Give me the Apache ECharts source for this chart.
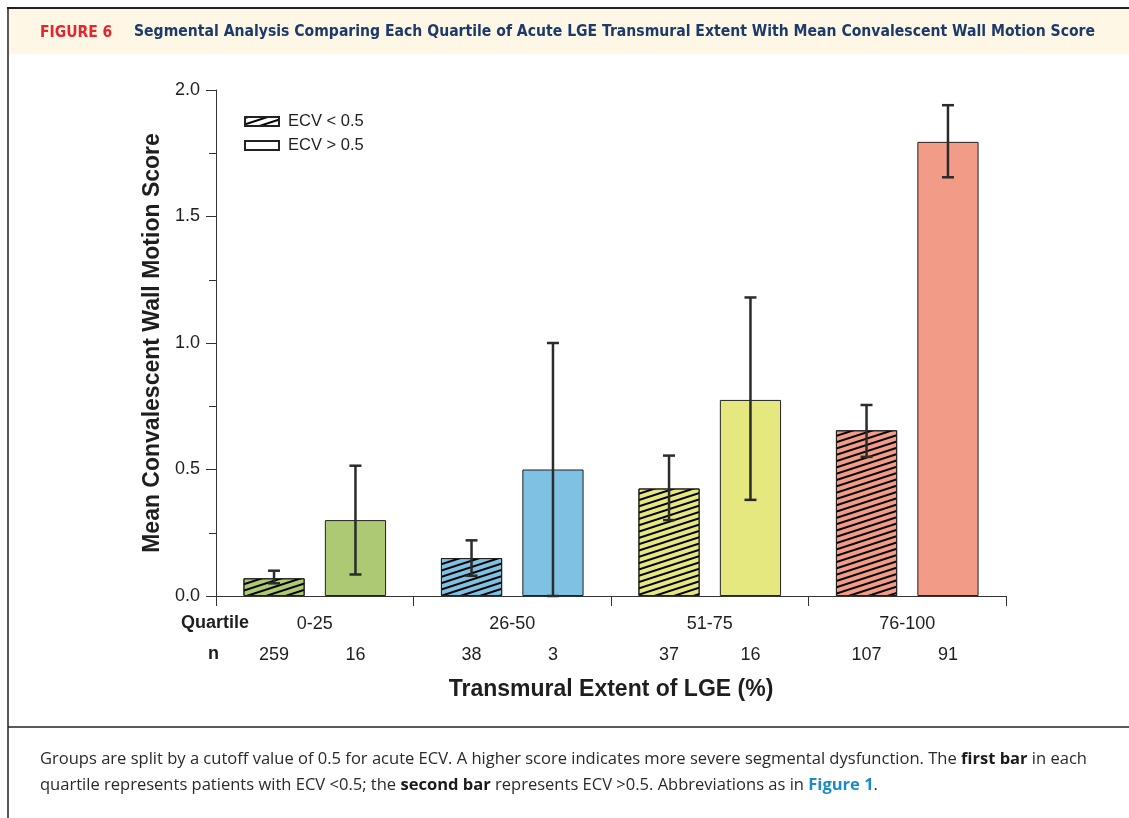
<!DOCTYPE html>
<html><head><meta charset="utf-8">
<script src="https://cdn.jsdelivr.net/npm/echarts@6/dist/echarts.min.js"></script>
<style>html,body{margin:0;padding:0;background:#fff}#c{width:1129px;height:818px}</style>
</head><body><div id="c"></div>
<script>
// ---- data ----
const categories = ['0-25', '26-50', '51-75', '76-100'];
const lowEcvMean = [0.07, 0.15, 0.425, 0.655];
const lowEcvErrLow = [0.05, 0.08, 0.30, 0.55];
const lowEcvErrHigh = [0.10, 0.22, 0.555, 0.755];
const highEcvMean = [0.30, 0.50, 0.775, 1.795];
const highEcvErrLow = [0.085, 0.0, 0.38, 1.655];
const highEcvErrHigh = [0.515, 1.0, 1.18, 1.94];
const lowEcvN = [259, 38, 37, 107];
const highEcvN = [16, 3, 16, 91];
const yTicks = [0, 0.5, 1.0, 1.5, 2.0];
const quartileColors = ['#AEC974', '#7EC1E2', '#E5E87E', '#F29B86'];

const F = 'Liberation Sans, Arial, sans-serif';
const TXT = '#1e1e1e';
const BAR_W = 0.31, BAR_GAP = 0.33;

const chart = echarts.init(document.getElementById('c'));

function errRender(side) {
  return function (params, api) {
    const c = api.value(0);
    const band = api.size([1, 0])[0];
    const bw = band * BAR_W, gap = bw * BAR_GAP;
    const x = api.coord([c, 0])[0] + side * (bw + gap) / 2;
    const yl = api.coord([c, api.value(1)])[1];
    const yh = api.coord([c, api.value(2)])[1];
    const cap = 6;
    const st = { stroke: '#2b2b2b', lineWidth: 2.5 };
    return { type: 'group', children: [
      { type: 'line', shape: { x1: x, y1: yl, x2: x, y2: yh }, style: st },
      { type: 'line', shape: { x1: x - cap, y1: yh, x2: x + cap, y2: yh }, style: st },
      { type: 'line', shape: { x1: x - cap, y1: yl, x2: x + cap, y2: yl }, style: st }
    ]};
  };
}

const hatch = { symbol: 'rect', symbolSize: 1, dashArrayX: [1, 0], dashArrayY: [1.2, 3.3], rotation: -Math.PI / 10, color: '#000' };

const option = {
  animation: false,
  backgroundColor: '#fff',
  grid: { left: 216, right: 123, top: 90, bottom: 222, containLabel: false },
  legend: {
    orient: 'vertical', left: 244, top: 113, itemWidth: 34, itemHeight: 9, itemGap: 7, padding: 0,
    icon: 'rect', selectedMode: false,
    textStyle: { fontFamily: F, fontSize: 16.5, color: TXT, padding: [0, 0, 0, 4] },
    data: ['ECV < 0.5', 'ECV > 0.5']
  },
  xAxis: {
    type: 'category', data: categories,
    axisLine: { lineStyle: { color: '#333', width: 1 } },
    axisTick: { show: true, length: 10, lineStyle: { color: '#333' } },
    axisLabel: { fontFamily: F, fontSize: 18, color: TXT, margin: 19 },
    name: 'Transmural Extent of LGE (%)', nameLocation: 'middle', nameGap: 82,
    nameTextStyle: { fontFamily: F, fontSize: 23, fontWeight: 'bold', color: TXT }
  },
  yAxis: {
    type: 'value', min: yTicks[0], max: yTicks[yTicks.length - 1], interval: yTicks[1] - yTicks[0],
    name: 'Mean Convalescent Wall Motion Score', nameLocation: 'middle', nameGap: 51,
    nameTextStyle: { fontFamily: F, fontSize: 23, fontWeight: 'bold', color: TXT },
    axisLine: { show: true, lineStyle: { color: '#333', width: 1 } },
    axisTick: { show: true, length: 10, lineStyle: { color: '#333' } },
    minorTick: { show: true, splitNumber: 2, length: 7, lineStyle: { color: '#333' } },
    splitLine: { show: false },
    axisLabel: { fontFamily: F, fontSize: 18, color: TXT, margin: 16, formatter: v => v.toFixed(1) }
  },
  series: [
    {
      name: 'ECV < 0.5', type: 'bar', barWidth: (BAR_W * 100) + '%', barGap: (BAR_GAP * 100) + '%',
      itemStyle: { color: '#fff', borderColor: '#222', borderWidth: 1, decal: hatch },
      data: lowEcvMean.map((v, i) => ({ value: v, itemStyle: { color: quartileColors[i] } })),
      label: { show: true, position: 'bottom', distance: 50, fontFamily: F, fontSize: 18, color: TXT,
        formatter: p => String(lowEcvN[p.dataIndex]) }
    },
    {
      name: 'ECV > 0.5', type: 'bar', barWidth: (BAR_W * 100) + '%', barGap: (BAR_GAP * 100) + '%',
      itemStyle: { color: '#fff', borderColor: '#222', borderWidth: 1 },
      data: highEcvMean.map((v, i) => ({ value: v, itemStyle: { color: quartileColors[i] } })),
      label: { show: true, position: 'bottom', distance: 50, fontFamily: F, fontSize: 18, color: TXT,
        formatter: p => String(highEcvN[p.dataIndex]) }
    },
    {
      type: 'custom', renderItem: errRender(-1), z: 5,
      encode: { x: 0, y: [1, 2] },
      data: categories.map((c, i) => [i, lowEcvErrLow[i], lowEcvErrHigh[i]])
    },
    {
      type: 'custom', renderItem: errRender(1), z: 5,
      encode: { x: 0, y: [1, 2] },
      data: categories.map((c, i) => [i, highEcvErrLow[i], highEcvErrHigh[i]])
    }
  ],
  graphic: [
    { type: 'rect', shape: { x: 9, y: 9, width: 1120, height: 45 }, style: { fill: '#FEF7E6' }, z: -10 },
    { type: 'line', shape: { x1: 7, y1: 8, x2: 1129, y2: 8 }, style: { stroke: '#222', lineWidth: 2 } },
    { type: 'line', shape: { x1: 8, y1: 7, x2: 8, y2: 818 }, style: { stroke: '#222', lineWidth: 1.5 } },
    { type: 'line', shape: { x1: 8, y1: 727, x2: 1129, y2: 727 }, style: { stroke: '#222', lineWidth: 1.5 } },
    { type: 'text', left: 40, top: 25, style: { text: 'FIGURE 6', fill: '#E4252E', font: 'bold 15.5px "DejaVu Sans Condensed", "Liberation Sans Narrow", sans-serif' } },
    { type: 'text', left: 134, top: 24, style: { text: 'Segmental Analysis Comparing Each Quartile of Acute LGE Transmural Extent With Mean Convalescent Wall Motion Score', fill: '#1C3A6B', font: 'bold 15.6px "DejaVu Sans Condensed", "Liberation Sans Narrow", sans-serif' } },
    { type: 'text', left: 181, top: 614, style: { text: 'Quartile', fill: TXT, font: 'bold 18px "Liberation Sans", Arial, sans-serif' } },
    { type: 'text', left: 208, top: 645, style: { text: 'n', fill: TXT, font: 'bold 18px "Liberation Sans", Arial, sans-serif' } },
    { type: 'text', left: 40, top: 746, style: {
      text: 'Groups are split by a cutoff value of 0.5 for acute ECV. A higher score indicates more severe segmental dysfunction. The {b|first bar} in each\nquartile represents patients with ECV <0.5; the {b|second bar} represents ECV >0.5. Abbreviations as in {l|Figure 1}.',
      fill: '#2a2a2a', font: '16.55px "Open Sans", sans-serif', lineHeight: 26,
      rich: { b: { fontWeight: 'bold', fontFamily: 'Open Sans', fontSize: 16.55, fill: '#1a1a1a' }, l: { fontWeight: 'bold', fontFamily: 'Open Sans', fontSize: 16.55, fill: '#1A8CC4' } }
    } }
  ]
};
chart.setOption(option);
</script>
</body></html>
